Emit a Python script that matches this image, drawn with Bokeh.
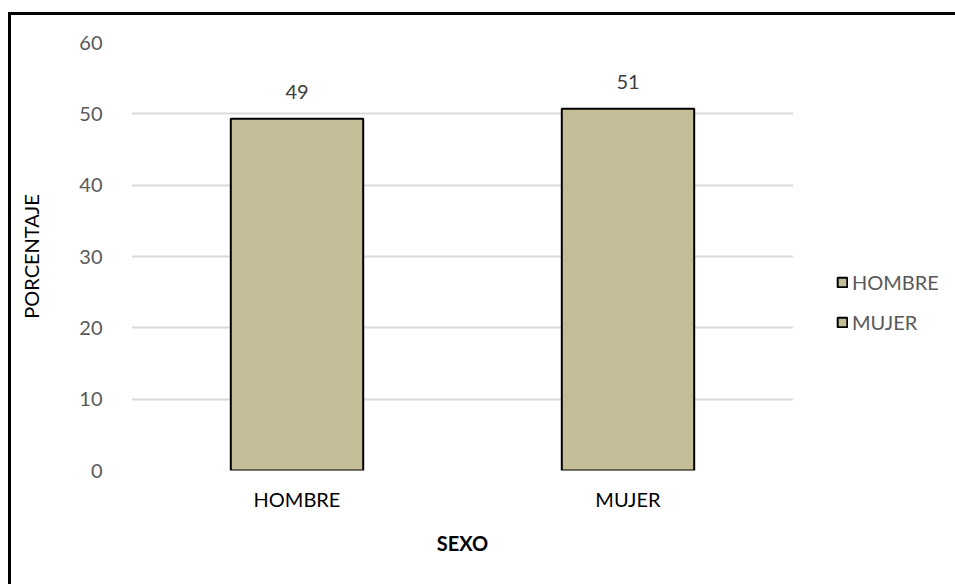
from bokeh.plotting import figure
from bokeh.models import ColumnDataSource, LabelSet, FactorRange
from bokeh.core.properties import value
from bokeh.embed import file_html
from bokeh.resources import INLINE

categories = ["HOMBRE", "MUJER"]
values = [49.3, 50.7]
labels = ["49", "51"]
y_ticks = [0, 10, 20, 30, 40, 50, 60]

FONT = "Lato"
BAR = "#C4BD97"

source = ColumnDataSource(dict(cat=categories, val=values, lab=labels))

p = figure(x_range=FactorRange(*categories, range_padding=0), y_range=(0, 60),
           frame_width=662, frame_height=428, output_backend="svg", toolbar_location=None,
           min_border_left=120, min_border_right=162, min_border_top=27, min_border_bottom=114)
p.styles = {"border-top": "3px solid black", "border-left": "3px solid black",
            "margin-top": "12px", "margin-left": "8px"}
p.outline_line_color = None

r = p.vbar(x="cat", top="val", width=0.40, source=source, fill_color=BAR,
           line_color="black", line_width=2, legend_field="cat")

p.add_layout(LabelSet(x="cat", y="val", text="lab", source=source, y_offset=20,
                      text_align="center", text_baseline="bottom", text_font=value(FONT),
                      text_font_size="20px", text_color="#404040"))

p.ygrid.grid_line_color = "#D9D9D9"
p.ygrid.grid_line_width = 2
p.xgrid.grid_line_color = None
p.yaxis.ticker = y_ticks
p.yaxis.axis_line_color = None
p.yaxis.major_tick_line_color = None
p.yaxis.minor_tick_line_color = None
p.yaxis.major_label_text_font = FONT
p.yaxis.major_label_text_font_size = "20px"
p.yaxis.major_label_text_color = "#595959"
p.yaxis.major_label_standoff = 23
p.yaxis.axis_label = "PORCENTAJE"
p.yaxis.axis_label_text_font = FONT
p.yaxis.axis_label_text_font_size = "20px"
p.yaxis.axis_label_text_font_style = "normal"
p.yaxis.axis_label_text_color = "black"
p.yaxis.axis_label_standoff = 33

p.xaxis.axis_line_color = None
p.xaxis.major_tick_line_color = None
p.xaxis.minor_tick_line_color = None
p.xaxis.major_label_text_font = FONT
p.xaxis.major_label_text_font_size = "20px"
p.xaxis.major_label_text_color = "black"
p.xaxis.major_label_standoff = 10
p.xaxis.axis_label = "SEXO"
p.xaxis.axis_label_text_font = FONT
p.xaxis.axis_label_text_font_size = "20px"
p.xaxis.axis_label_text_font_style = "bold"
p.xaxis.axis_label_text_color = "black"
p.xaxis.axis_label_standoff = 17

leg = p.legend[0]
p.center.remove(leg)
p.add_layout(leg, "right")
leg.location = (43, 136)
leg.border_line_color = None
leg.background_fill_alpha = 0
leg.padding = 0
leg.margin = 0
leg.glyph_width = 12
leg.glyph_height = 12
leg.label_height = 20
leg.spacing = 16
leg.label_standoff = 4
leg.label_text_font = FONT
leg.label_text_font_size = "20px"
leg.label_text_color = "#595959"

open("out.html", "w").write(file_html(p, INLINE))
